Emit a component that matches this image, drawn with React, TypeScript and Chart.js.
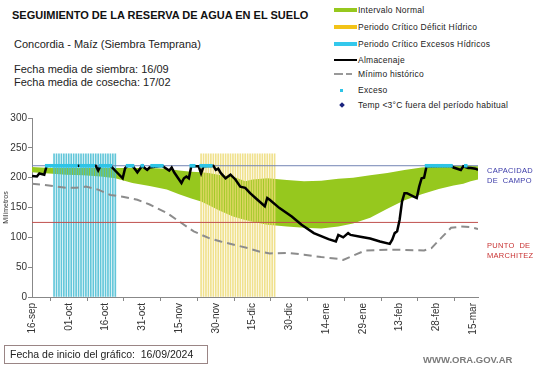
import React, { useEffect, useRef } from 'react';
import { Chart, registerables } from 'chart.js';

Chart.register(...registerables);

const FONT = "'Liberation Sans', Arial, Helvetica, sans-serif";

// Axis tick labels (every 15 days from 16-sep)
const tickLabels = ['16-sep', '01-oct', '16-oct', '31-oct', '15-nov', '30-nov', '15-dic', '30-dic', '14-ene', '29-ene', '13-feb', '28-feb', '15-mar'];
const lastDay = 182;

const FIELD_CAPACITY = 220;
const WILTING_POINT = 125;
const PERIOD_BAR_TOP = 240;

// Almacenaje (storage), day index since 16-sep
const storageDays = [
  0, 2, 3, 5, 6, 19, 26, 27, 28, 32,
  37, 38, 39, 41, 43, 45, 46, 47, 48, 53,
  56, 57, 58, 60, 61, 62, 63, 64, 65, 68,
  69, 70, 74, 75, 76, 77, 79, 80, 81, 83,
  85, 87, 89, 92, 95, 96, 97, 101, 106, 110,
  115, 121, 124, 125, 127, 129, 130, 134, 138, 142,
  146, 147, 148, 149, 150, 151, 152, 153, 156, 157,
  158, 159, 160, 161, 171, 172, 175, 176, 178, 179,
  181, 182,
];
const storageValues = [
  203, 202, 207, 205, 220, 220, 220, 212, 220, 220,
  199, 216, 220, 220, 209, 220, 216, 213, 217, 220,
  212, 217, 209, 197, 191, 199, 202, 199, 219, 219,
  207, 219, 220, 213, 215, 208, 199, 202, 205, 197,
  185, 183, 174, 163, 152, 166, 163, 149, 135, 121,
  107, 97, 93, 104, 100, 107, 104, 101, 98, 93,
  89, 96, 107, 110, 129, 160, 174, 174, 168, 166,
  185, 199, 200, 219, 220, 217, 213, 219, 216, 216,
  215, 213,
];

// Mínimo histórico
const minDays = [0, 5, 14, 18, 22, 27, 32, 37, 43, 48, 55, 61, 66, 72, 77, 82, 88, 93, 97, 104, 111, 118, 125, 127, 132, 136, 145, 152, 160, 163, 167, 171, 175, 179, 182];
const minValues = [190, 188, 183, 183, 185, 180, 171, 168, 163, 155, 141, 124, 110, 99, 93, 88, 82, 76, 73, 74, 71, 67, 64, 62, 71, 78, 79, 79, 78, 82, 99, 116, 118, 117, 114];

// Intervalo normal (band)
const bandDays = [0, 7, 14, 21, 28, 34, 41, 48, 55, 60, 65, 69, 72, 76, 82, 87, 90, 96, 104, 111, 118, 125, 131, 138, 145, 152, 159, 166, 172, 176, 179, 182];
const bandUpper = [218, 216, 216, 216, 216, 216, 216, 216, 215, 212, 210, 209, 208, 205, 202, 194, 197, 199, 196, 194, 195, 198, 200, 204, 208, 213, 217, 219, 220, 220, 220, 219];
const bandLower = [209, 207, 205, 204, 202, 199, 191, 186, 180, 172, 165, 160, 154, 146, 135, 129, 126, 121, 118, 116, 115, 118, 123, 133, 148, 162, 172, 181, 187, 190, 194, 197];

// Exceso days (marked at field capacity)
const excessDays = [
  6, 7, 8, 9, 10, 11, 12, 13, 14, 15, 16, 17, 18,
  20, 21, 22, 23, 24, 25,
  28, 29, 30, 31, 32,
  39, 40, 41, 45, 49, 50, 51, 52, 53,
  65, 66, 69, 70, 71, 72, 73,
  161, 162, 163, 164, 165, 166, 167, 168, 169, 170, 171, 177,
];

// Critical periods (first day, last day)
const excessPeriod = [9, 34];
const deficitPeriod = [69, 99];

export default function App() {
  const ref = useRef<HTMLCanvasElement>(null);

  useEffect(() => {
    document.body.style.margin = '0';
    const pts = (xs: number[], ys: number[]) => xs.map((x, i) => ({ x, y: ys[i] }));
    const span = (r: number[]) => {
      const out: { x: number; y: number }[] = [];
      for (let d = r[0]; d <= r[1]; d++) out.push({ x: d, y: PERIOD_BAR_TOP });
      return out;
    };
    const clear = 'rgba(0,0,0,0)';
    const chart = new Chart(ref.current as HTMLCanvasElement, {
      type: 'line',
      data: {
        datasets: [
          {
            label: 'Exceso',
            data: excessDays.map((d) => ({ x: d, y: FIELD_CAPACITY })),
            showLine: false,
            pointStyle: 'rect',
            pointRadius: 2.5,
            pointBorderWidth: 0,
            pointBackgroundColor: '#2ec4e6',
            pointBorderColor: '#2ec4e6',
            borderColor: clear,
            backgroundColor: '#2ec4e6',
          } as any,
          {
            label: 'Almacenaje',
            data: pts(storageDays, storageValues),
            borderColor: '#000000',
            borderWidth: 2.5,
            pointRadius: 0,
            tension: 0,
            fill: false,
          },
          {
            label: 'Capacidad de campo',
            data: [{ x: 0, y: FIELD_CAPACITY }, { x: lastDay, y: FIELD_CAPACITY }],
            borderColor: '#7384b4',
            borderWidth: 1,
            pointRadius: 0,
            fill: false,
          },
          {
            label: 'Punto de marchitez',
            data: [{ x: 0, y: WILTING_POINT }, { x: lastDay, y: WILTING_POINT }],
            borderColor: '#c0504d',
            borderWidth: 1,
            pointRadius: 0,
            fill: false,
          },
          {
            label: 'Mínimo histórico',
            data: pts(minDays, minValues),
            borderColor: '#8c8c8c',
            borderWidth: 2,
            borderDash: [8, 5],
            pointRadius: 0,
            fill: false,
          },
          {
            type: 'bar',
            label: 'Periodo Crítico Excesos Hídricos',
            data: span(excessPeriod),
            backgroundColor: 'rgba(70,188,210,0.85)',
            barThickness: 1,
            grouped: false,
          } as any,
          {
            type: 'bar',
            label: 'Periodo Crítico Déficit Hídrico',
            data: span(deficitPeriod),
            backgroundColor: 'rgba(236,218,112,0.8)',
            barThickness: 1,
            grouped: false,
          } as any,
          {
            label: 'Intervalo bajo',
            data: pts(bandDays, bandLower),
            borderColor: clear,
            borderWidth: 0,
            pointRadius: 0,
            fill: false,
          },
          {
            label: 'Intervalo Normal',
            data: pts(bandDays, bandUpper),
            borderColor: clear,
            borderWidth: 0,
            pointRadius: 0,
            fill: '-1',
            backgroundColor: '#96c81e',
          },
        ],
      },
      options: {
        animation: false,
        responsive: false,
        layout: { padding: { top: 8, right: 63, left: 0, bottom: 0 } },
        plugins: { legend: { display: false }, tooltip: { enabled: false } },
        scales: {
          x: {
            type: 'linear',
            min: 0,
            max: lastDay,
            offset: false,
            ticks: {
              stepSize: 15,
              includeBounds: false,
              autoSkip: false,
              maxRotation: 90,
              minRotation: 90,
              padding: 2,
              color: '#333333',
              font: { family: FONT, size: 10 },
              callback: (v: any) => (Number(v) % 15 === 0 ? tickLabels[Number(v) / 15] : null),
            },
            grid: { drawOnChartArea: false, tickLength: 4, color: '#888888' },
            border: { color: '#888888' },
            afterFit: (s: any) => {
              s.height = 53;
            },
          },
          y: {
            min: 0,
            max: 300,
            ticks: {
              stepSize: 50,
              padding: 1,
              color: '#333333',
              font: { family: FONT, size: 10 },
            },
            grid: { drawOnChartArea: false, tickLength: 4, color: '#888888' },
            border: { color: '#888888' },
            title: {
              display: true,
              text: 'Milímetros',
              color: '#333333',
              font: { family: FONT, size: 7 },
              padding: { top: 2, bottom: 0 },
            },
            afterFit: (s: any) => {
              s.width = 32;
            },
          },
        },
      } as any,
    });
    return () => chart.destroy();
  }, []);

  const legendRow = (top: number, swatch: React.ReactNode, text: string) => (
    <div style={{ position: 'absolute', left: 334, top: top - 6, height: 12, display: 'flex', alignItems: 'center' }}>
      <div style={{ width: 23, height: 12, position: 'relative', marginRight: 1 }}>{swatch}</div>
      <span style={{ fontSize: 8.5, color: '#222', whiteSpace: 'nowrap', letterSpacing: 0.25 }}>{text}</span>
    </div>
  );
  const bar = (color: string) => (
    <div style={{ position: 'absolute', left: 0, top: 4, width: 23, height: 4, background: color }} />
  );

  return (
    <div style={{ position: 'relative', width: 541, height: 368, fontFamily: FONT, background: '#fff', overflow: 'hidden' }}>
      <div style={{ position: 'absolute', left: 12, top: 9, fontSize: 11, fontWeight: 'bold', color: '#111', whiteSpace: 'nowrap' }}>
        SEGUIMIENTO DE LA RESERVA DE AGUA EN EL SUELO
      </div>
      <div style={{ position: 'absolute', left: 14, top: 38, fontSize: 11, color: '#222', whiteSpace: 'nowrap' }}>
        Concordia - Maíz (Siembra Temprana)
      </div>
      <div style={{ position: 'absolute', left: 14, top: 63, fontSize: 11, color: '#222', whiteSpace: 'nowrap', lineHeight: '13px' }}>
        Fecha media de siembra: 16/09
        <br />
        Fecha media de cosecha: 17/02
      </div>

      {legendRow(10, bar('#96c81e'), 'Intervalo Normal')}
      {legendRow(27, bar('#f2c318'), 'Periodo Crítico Déficit Hídrico')}
      {legendRow(44, bar('#33c8ec'), 'Periodo Crítico Excesos Hídricos')}
      {legendRow(60, <div style={{ position: 'absolute', left: 0, top: 5, width: 23, height: 2, background: '#000' }} />, 'Almacenaje')}
      {legendRow(
        74,
        <>
          <div style={{ position: 'absolute', left: 0, top: 5, width: 9, height: 2, background: '#999' }} />
          <div style={{ position: 'absolute', left: 12, top: 5, width: 6, height: 2, background: '#999' }} />
        </>,
        'Mínimo histórico'
      )}
      {legendRow(90, <div style={{ position: 'absolute', left: 6, top: 5, width: 3, height: 3, background: '#2ec4e6' }} />, 'Exceso')}
      {legendRow(
        105,
        <div style={{ position: 'absolute', left: 6, top: 4, width: 4, height: 4, background: '#1a237e', transform: 'rotate(45deg)' }} />,
        'Temp <3°C fuera del período habitual'
      )}

      <canvas ref={ref} width={541} height={240} style={{ position: 'absolute', left: 0, top: 110, width: 541, height: 240 }} />

      <div style={{ position: 'absolute', left: 487, top: 166, fontSize: 7.5, color: '#3a3aa8', lineHeight: '10px', whiteSpace: 'nowrap', letterSpacing: 0.3 }}>
        CAPACIDAD
        <br />
        DE&nbsp; CAMPO
      </div>
      <div style={{ position: 'absolute', left: 487, top: 241, fontSize: 7.5, color: '#c83232', lineHeight: '10px', whiteSpace: 'nowrap', letterSpacing: 0.3 }}>
        PUNTO&nbsp; DE
        <br />
        MARCHITEZ
      </div>

      <div
        style={{
          position: 'absolute',
          left: 4,
          top: 345,
          width: 204,
          height: 19,
          border: '1px solid #9a8585',
          boxSizing: 'border-box',
          fontSize: 10.5,
          color: '#222',
          lineHeight: '17px',
          paddingLeft: 5,
          whiteSpace: 'pre',
        }}
      >
        {'Fecha de inicio del gráfico:  16/09/2024'}
      </div>
      <div style={{ position: 'absolute', left: 423, top: 354, fontSize: 9.5, fontWeight: 'bold', color: '#7a7a7a', whiteSpace: 'nowrap' }}>
        WWW.ORA.GOV.AR
      </div>
    </div>
  );
}
